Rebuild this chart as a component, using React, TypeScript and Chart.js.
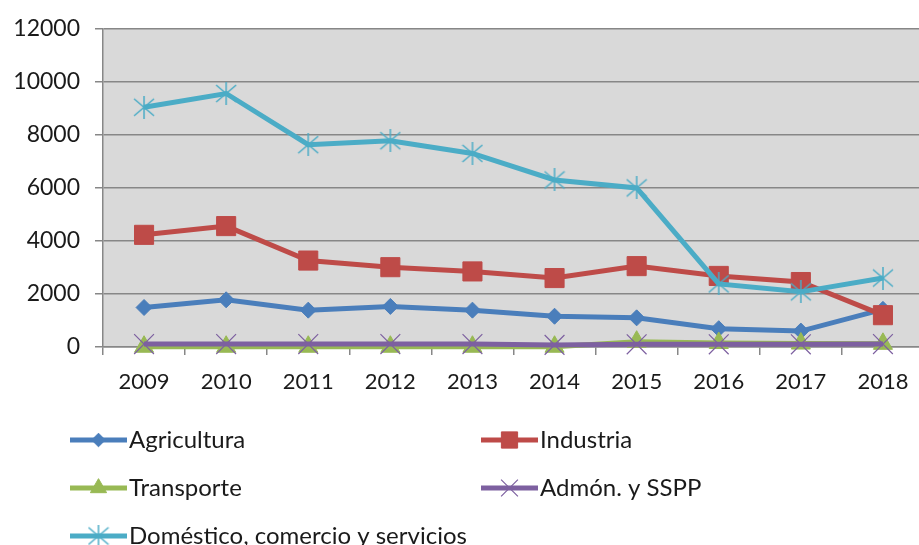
import React, { useEffect, useRef } from "react";
import { Chart, registerables, PointElement } from "chart.js";

Chart.register(...registerables);

const years = ["2009", "2010", "2011", "2012", "2013", "2014", "2015", "2016", "2017", "2018"];
const agricultura = [1490, 1780, 1390, 1530, 1390, 1160, 1100, 690, 600, 1420];
const industria = [4230, 4560, 3260, 3010, 2850, 2600, 3050, 2680, 2450, 1200];
const transporte = [10, 10, 10, 10, 10, 10, 200, 150, 130, 120];
const admon = [110, 110, 110, 110, 110, 80, 100, 100, 100, 110];
const domestico = [9040, 9560, 7630, 7780, 7300, 6300, 6000, 2380, 2080, 2600];
const yTicks = [0, 2000, 4000, 6000, 8000, 10000, 12000];

const FONT = "Lato";
const GRID = "#878787";

function makeStar(color: string, w: number, h: number) {
  const c = document.createElement("canvas");
  c.width = w;
  c.height = h;
  const g = c.getContext("2d")!;
  g.strokeStyle = color;
  g.lineWidth = 1.5;
  g.beginPath();
  g.moveTo(1, 3);
  g.lineTo(w - 1, h - 3);
  g.moveTo(w - 1, 3);
  g.lineTo(1, h - 3);
  g.moveTo(w / 2, 0);
  g.lineTo(w / 2, h);
  g.stroke();
  return c;
}

const bgPlugin = {
  id: "plotBg",
  beforeDraw(chart: any) {
    const { ctx, chartArea } = chart;
    ctx.save();
    ctx.fillStyle = "#d9d9d9";
    ctx.fillRect(chartArea.left, chartArea.top, chartArea.right - chartArea.left, chartArea.bottom - chartArea.top);
    ctx.restore();
  },
};

const legendPlugin = {
  id: "twoColLegend",
  afterDraw(chart: any) {
    const { ctx } = chart;
    const colX = [70, 481];
    const rowY0 = 440;
    const rowH = 48;
    const big = { left: -1e5, right: 1e5, top: -1e5, bottom: 1e5 };
    chart.data.datasets.forEach((ds: any, i: number) => {
      const col = i % 2;
      const row = Math.floor(i / 2);
      const x0 = colX[col];
      const y = rowY0 + row * rowH;
      ctx.save();
      ctx.strokeStyle = ds.borderColor;
      ctx.lineWidth = ds.borderWidth;
      ctx.lineCap = "butt";
      ctx.beginPath();
      ctx.moveTo(x0, y);
      ctx.lineTo(x0 + 57, y);
      ctx.stroke();
      const pt: any = new (PointElement as any)({
        x: x0 + 28.5,
        y,
        options: {
          pointStyle: ds.pointStyle,
          rotation: 0,
          radius: ds.pointRadius * 0.85,
          borderWidth: ds.pointBorderWidth,
          backgroundColor: ds.pointBackgroundColor,
          borderColor: ds.pointBorderColor,
        },
      });
      pt.draw(ctx, big);
      ctx.fillStyle = "#1a1a1a";
      ctx.font = `24px ${FONT}`;
      ctx.textAlign = "left";
      ctx.textBaseline = "middle";
      ctx.fillText(ds.label, x0 + 59, y);
      ctx.restore();
    });
  },
};

function mk(label: string, data: number[], color: string, style: any, radius: number, bw: number, order: number) {
  return {
    label,
    data,
    borderColor: color,
    backgroundColor: color,
    borderWidth: 5,
    pointStyle: style,
    pointRadius: radius,
    pointHoverRadius: radius,
    pointBorderWidth: bw,
    pointBackgroundColor: color,
    pointBorderColor: color,
    tension: 0,
    clip: false,
    order,
  };
}

export default function App() {
  const ref = useRef<HTMLCanvasElement | null>(null);
  useEffect(() => {
    if (!ref.current) return;
    const starImg = makeStar("#4bacc6", 22, 23);
    const chart = new Chart(ref.current, {
      type: "line",
      data: {
        labels: years,
        datasets: [
          mk("Agricultura", agricultura, "#4a7ebb", "rectRot", 8, 1, 5),
          mk("Industria", industria, "#be4b48", "rect", 13.5, 1, 4),
          mk("Transporte", transporte, "#98b954", "triangle", 11, 1, 3),
          mk("Admón. y SSPP", admon, "#7d60a0", "crossRot", 14, 1.2, 2),
          mk("Doméstico, comercio y servicios", domestico, "#4bacc6", starImg, 11, 1.4, 1),
        ] as any,
      },
      options: {
        responsive: false,
        animation: false,
        events: [],
        layout: { autoPadding: false, padding: { top: 23, bottom: 148, left: 0, right: 6 } },
        plugins: { legend: { display: false }, tooltip: { enabled: false } },
        scales: {
          x: {
            offset: true,
            grid: { drawOnChartArea: false, drawTicks: true, tickLength: 8, color: GRID, lineWidth: 1.5, offset: true },
            border: { display: true, color: GRID, width: 1.5 },
            ticks: { color: "#1a1a1a", font: { family: FONT, size: 22 }, padding: 14, maxRotation: 0, autoSkip: false },
            afterFit(scale: any) {
              scale.height = 50;
              scale.paddingLeft = 0;
              scale.paddingRight = 0;
            },
          },
          y: {
            min: 0,
            max: 12000,
            afterBuildTicks(scale: any) {
              scale.ticks = yTicks.map((v) => ({ value: v }));
            },
            grid: { color: GRID, lineWidth: 1.5, drawTicks: true, tickLength: 8 },
            border: { display: true, color: GRID, width: 1.5 },
            ticks: {
              color: "#1a1a1a",
              font: { family: FONT, size: 23 },
              padding: 15,
              callback: (v: any) => String(v),
            },
            afterFit(scale: any) {
              scale.width = 103;
            },
          },
        },
      },
      plugins: [bgPlugin, legendPlugin],
    });
    return () => chart.destroy();
  }, []);
  return (
    <div style={{ position: "absolute", left: 0, top: 0, width: 919, height: 545, overflow: "hidden", background: "#fff" }}>
      <div style={{ width: 930, height: 545 }}>
        <canvas ref={ref} width={930} height={545} style={{ display: "block", width: 930, height: 545 }} />
      </div>
    </div>
  );
}
